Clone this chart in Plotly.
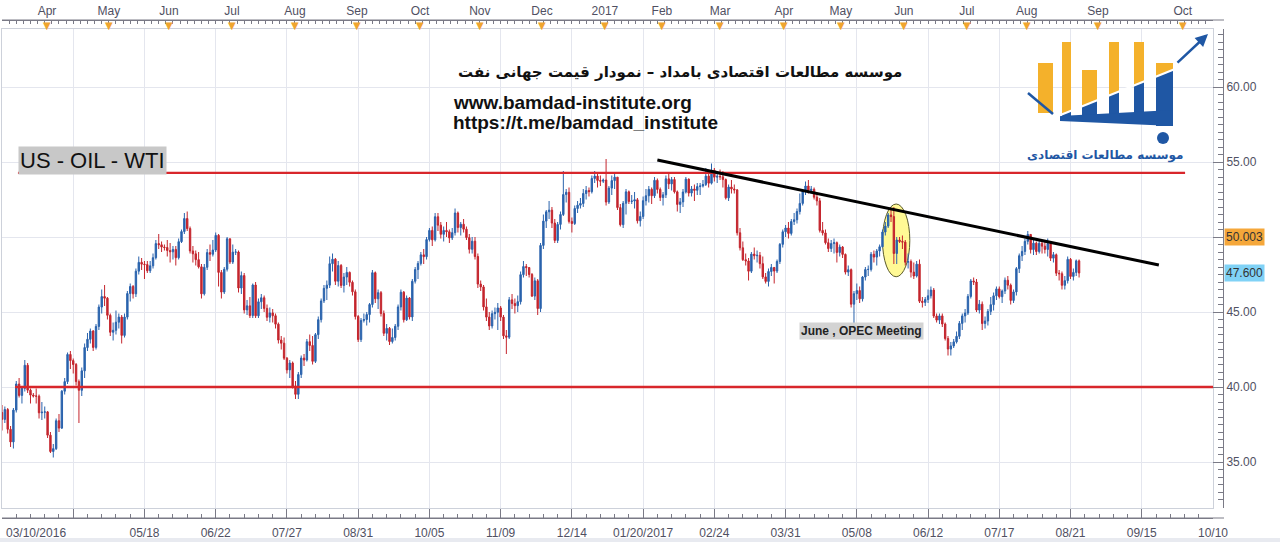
import plotly.graph_objects as go

# ---------------- DATA (daily US-OIL WTI candles) ----------------
OPEN = [
    38.30, 37.84, 38.50, 37.18, 36.34, 38.46, 40.20, 39.44, 39.91, 41.45, 39.79, 39.46, 39.40, 39.39, 38.28, 38.32,
    38.34, 36.79, 35.70, 35.89, 37.75, 37.26, 39.72, 40.36, 42.17, 41.76, 41.50, 40.36, 39.78, 41.08, 42.63, 43.18, 43.73, 42.64, 44.04, 45.33, 46.03,
    45.92, 44.78, 43.65, 43.78, 44.32, 44.66, 43.44, 44.66, 46.23, 46.70, 46.21, 47.72, 48.31, 48.19, 48.16, 47.75, 48.08, 48.62, 49.56, 49.48, 49.33, 49.30,
    49.10, 49.01, 49.17, 48.62, 49.69, 50.36, 51.23, 50.56, 49.07, 48.88, 48.49, 48.01, 46.21, 47.98, 48.96, 48.85, 49.13, 50.11, 47.64, 46.33, 47.85, 49.88,
    48.33, 48.99, 49.00, 46.60, 47.43, 45.14, 45.41, 44.76, 46.80, 44.75, 45.68, 45.95, 45.24, 44.65, 44.94, 44.75, 44.19, 43.13, 42.92, 41.92, 41.14,
    41.60, 40.06, 39.51, 40.83, 41.93, 41.80, 43.02, 42.77, 41.71, 43.49, 44.49, 45.74, 46.58, 46.79, 48.22, 48.52, 47.05, 48.10, 46.77, 47.33, 47.64, 46.98, 46.35,
    44.70, 43.16, 44.44, 44.50, 44.83, 45.50, 47.62, 45.88, 46.29, 44.90, 43.58, 43.91, 43.03, 43.30, 44.05, 45.34, 46.32, 44.48, 45.93, 44.67, 47.05, 47.83,
    48.24, 48.81, 48.69, 49.83, 50.44, 49.81, 51.35, 50.79, 50.18, 50.44, 50.35, 49.94, 50.29, 51.60, 50.63, 50.85, 50.52, 49.96, 49.18, 49.72, 48.70,
    46.86, 46.67, 45.34, 44.66, 44.07, 44.89, 44.98, 45.27, 44.66, 43.41, 43.32, 45.81, 45.57, 45.42, 45.69, 47.49, 48.03, 47.96, 47.50, 46.06, 47.08, 45.23,
    49.44, 51.06, 51.68, 51.79, 50.93, 49.77, 50.84, 51.50, 52.83, 52.98, 51.04, 50.90, 51.90, 52.12, 52.23, 52.90, 53.10, 53.02, 53.90, 54.06, 53.77,
    53.72, 53.80, 52.33, 53.26, 53.76, 53.99, 51.96, 50.82, 52.25, 53.01, 52.37, 52.40, 52.48, 51.08, 51.37, 52.42, 52.75, 53.18, 52.75, 53.78, 53.17, 52.63,
    52.81, 53.88, 53.54, 53.83, 53.01, 52.17, 52.34, 53.00, 53.86, 52.93, 53.20, 53.11, 53.36, 53.40, 53.50, 54.06, 53.59, 54.45, 53.99, 54.05,
    54.01, 53.83, 52.61, 53.33, 53.20, 53.14, 50.28, 49.28, 48.49, 48.40, 47.72, 48.86, 48.75, 48.78, 48.22, 47.34, 47.04, 47.70, 47.97, 47.73, 48.37, 49.51, 50.35,
    50.60, 50.24, 51.03, 51.15, 51.70, 52.24, 53.08, 53.40, 53.11, 53.18, 52.65, 52.41, 50.44, 50.27, 49.62, 49.23, 49.56, 49.62, 48.97,
    49.33, 48.84, 47.66, 47.82, 45.52, 46.22, 46.43, 45.88, 47.33, 47.83, 47.84, 48.85, 48.66, 49.07, 49.35, 50.33, 50.73, 51.47, 51.36, 48.90, 49.80, 49.70, 49.66,
    48.32, 48.36, 47.66, 47.40, 48.19, 45.72, 45.64, 45.83, 46.08, 46.46, 44.73, 44.46, 44.74, 44.20, 43.23, 42.53, 42.74, 43.01, 43.38, 44.24, 44.74, 44.93,
    46.04, 47.07, 47.00, 45.13, 45.52, 44.23, 44.40, 45.04, 45.49, 46.08, 46.54, 46.02, 46.40, 47.12, 46.79, 45.77, 46.34, 47.89, 48.75, 49.04, 49.71,
    50.17, 49.16, 49.59, 49.03, 49.58, 49.39, 49.17, 49.56, 48.59, 48.82, 47.59, 47.55, 46.78, 47.09, 48.51, 47.37, 47.64, 48.41,
]
HIGH = [
    38.80, 38.70, 38.60, 37.40, 38.60, 40.40, 40.60, 40.00, 41.80, 41.60, 39.90, 39.60, 39.90, 39.50, 39.00, 38.70,
    38.40, 37.00, 36.20, 37.90, 38.20, 39.80, 40.60, 42.30, 42.40, 41.90, 41.60, 40.50, 41.30, 42.90, 43.60, 43.90, 43.80, 44.20, 45.50, 46.50, 46.80,
    46.00, 44.90, 44.30, 45.10, 44.90, 44.80, 44.90, 46.40, 46.90, 46.80, 47.90, 48.70, 48.60, 48.40, 48.40, 48.40, 48.90, 49.80, 50.20, 49.70, 49.50, 49.80,
    49.60, 49.40, 49.40, 49.90, 50.50, 51.60, 51.70, 50.70, 49.40, 49.10, 49.00, 48.20, 48.20, 49.20, 49.50, 49.80, 50.30, 50.20, 47.80, 48.00, 50.00, 49.90,
    49.50, 49.20, 49.10, 47.70, 47.60, 45.80, 46.00, 46.90, 47.00, 45.90, 46.20, 46.10, 45.50, 45.30, 45.20, 44.90, 44.30, 43.40, 43.30, 42.00, 41.80,
    41.70, 40.40, 41.00, 42.10, 42.20, 43.20, 43.50, 43.40, 43.60, 44.70, 45.90, 46.80, 47.10, 48.70, 48.90, 48.60, 48.40, 48.20, 47.60, 48.00, 47.70, 47.10, 46.50,
    44.80, 44.60, 44.90, 45.00, 45.60, 47.80, 47.70, 46.50, 46.40, 45.10, 44.20, 44.00, 43.90, 44.20, 45.50, 46.50, 46.40, 46.10, 46.00, 47.20, 48.00, 48.40,
    49.00, 49.20, 50.00, 50.60, 50.70, 51.60, 51.60, 51.00, 50.70, 51.00, 50.50, 50.60, 51.90, 51.70, 51.00, 51.20, 50.70, 50.20, 50.00, 50.00, 48.90,
    47.10, 46.80, 45.90, 45.00, 45.10, 45.30, 45.60, 45.40, 44.80, 43.80, 46.00, 46.20, 45.90, 46.10, 47.70, 48.40, 48.20, 48.00, 47.60, 47.30, 47.20, 49.60,
    51.50, 51.80, 52.40, 52.00, 51.20, 51.00, 51.70, 54.40, 53.20, 53.30, 51.30, 52.10, 52.40, 52.60, 53.20, 53.40, 53.30, 54.10, 54.40, 54.20, 54.10,
    53.90, 55.20, 53.40, 54.10, 54.30, 54.00, 52.20, 52.40, 53.20, 53.10, 52.80, 53.00, 52.60, 51.70, 52.70, 53.20, 53.40, 53.30, 54.00, 53.90, 53.30, 53.00,
    54.10, 54.20, 54.00, 54.00, 53.10, 52.60, 53.20, 54.00, 53.90, 53.40, 53.50, 53.60, 53.60, 53.80, 54.60, 54.30, 54.90, 54.60, 54.30, 54.50,
    54.40, 53.90, 53.50, 53.80, 53.50, 53.20, 50.60, 49.70, 48.90, 48.60, 49.00, 49.30, 49.10, 49.00, 48.70, 47.60, 47.90, 48.20, 48.00, 48.50, 49.60, 50.50, 50.80,
    51.00, 51.20, 51.60, 51.90, 52.90, 53.20, 53.70, 53.80, 53.40, 53.30, 52.90, 52.60, 51.00, 50.50, 49.90, 49.80, 49.90, 49.70, 49.50,
    49.40, 48.90, 48.10, 47.90, 46.40, 46.90, 46.70, 47.40, 48.00, 48.10, 49.00, 49.10, 49.20, 49.50, 50.50, 51.00, 51.60, 51.80, 52.00, 50.00, 50.00, 50.10, 49.80,
    48.90, 48.50, 48.30, 48.40, 48.50, 46.00, 46.00, 46.50, 46.70, 46.60, 44.90, 44.90, 44.90, 44.30, 43.40, 43.00, 43.20, 43.70, 44.40, 44.90, 45.20, 46.20,
    47.20, 47.30, 47.20, 45.80, 45.70, 44.70, 45.20, 46.00, 46.30, 46.70, 46.70, 46.50, 47.30, 47.40, 46.90, 46.50, 48.00, 48.90, 49.40, 49.90, 50.40,
    50.20, 49.80, 49.70, 49.80, 49.70, 49.80, 49.90, 49.60, 49.00, 48.90, 47.80, 47.70, 47.40, 48.70, 48.60, 47.90, 48.50, 48.50,
]
LOW = [
    37.10, 37.60, 36.90, 36.00, 35.90, 38.30, 39.30, 38.90, 39.70, 39.60, 38.90, 39.30, 38.90, 37.90, 37.80, 37.90,
    36.60, 35.60, 35.30, 35.80, 37.00, 37.20, 39.50, 40.20, 41.20, 40.90, 40.10, 37.60, 39.40, 40.60, 42.40, 42.90, 42.40, 42.50, 43.80, 44.90, 45.40,
    44.50, 43.40, 43.10, 43.50, 43.90, 42.90, 43.30, 44.50, 45.70, 45.90, 46.00, 47.50, 47.80, 47.20, 47.60, 47.60, 47.90, 48.50, 49.20, 49.00, 49.10, 48.70,
    48.30, 48.50, 48.10, 48.50, 49.60, 50.20, 50.40, 48.90, 48.30, 48.10, 47.90, 45.90, 46.10, 47.80, 48.40, 48.70, 49.00, 46.70, 45.90, 46.20, 47.70, 48.20,
    48.20, 48.80, 46.30, 46.20, 44.90, 44.80, 44.60, 44.60, 44.60, 44.60, 45.20, 45.00, 44.40, 44.30, 44.30, 43.90, 42.90, 42.50, 41.80, 40.90, 40.60,
    39.90, 39.20, 39.20, 40.60, 41.40, 41.70, 42.40, 41.50, 41.60, 43.20, 44.30, 45.60, 45.80, 46.60, 47.70, 46.80, 46.70, 46.60, 46.30, 46.80, 46.70, 46.10, 44.50,
    43.00, 43.00, 44.30, 44.10, 44.30, 45.30, 45.60, 45.20, 44.70, 43.40, 43.10, 42.80, 42.90, 43.10, 43.80, 45.10, 44.30, 44.40, 44.50, 44.40, 46.90, 47.20,
    48.10, 48.20, 48.50, 49.70, 49.40, 49.70, 50.40, 49.90, 49.70, 50.00, 49.60, 49.80, 50.10, 50.30, 50.10, 50.30, 49.80, 48.90, 48.90, 48.50, 46.60,
    46.40, 45.10, 44.40, 43.80, 43.90, 44.50, 43.80, 44.40, 43.20, 42.20, 43.20, 45.20, 44.90, 45.00, 45.50, 47.30, 47.40, 47.30, 46.00, 45.80, 44.80, 45.00,
    49.20, 50.60, 51.20, 50.60, 49.60, 49.60, 50.50, 51.40, 52.30, 50.90, 50.30, 50.80, 51.60, 51.90, 52.00, 52.50, 52.70, 52.90, 53.60, 53.30, 53.40,
    53.60, 52.10, 52.20, 52.80, 53.20, 51.80, 50.70, 50.60, 51.50, 52.20, 52.20, 51.90, 50.90, 50.70, 51.20, 52.10, 52.30, 52.20, 52.60, 52.90, 52.40, 52.10,
    52.60, 53.20, 53.10, 52.90, 51.70, 51.60, 52.00, 52.90, 52.70, 52.70, 52.40, 52.80, 52.80, 53.30, 53.40, 53.30, 53.50, 53.70, 53.60, 53.80,
    53.30, 52.50, 52.40, 52.90, 52.90, 50.10, 49.10, 48.40, 48.10, 47.10, 47.60, 48.50, 48.30, 47.90, 47.20, 46.90, 46.70, 47.40, 46.90, 47.60, 48.20, 49.30, 50.00,
    49.90, 50.10, 50.80, 50.90, 51.50, 52.10, 52.80, 52.90, 52.90, 52.50, 52.10, 50.30, 50.10, 49.50, 49.00, 49.00, 48.90, 48.30, 48.70,
    48.60, 47.50, 47.40, 45.30, 43.80, 45.80, 45.60, 45.70, 47.10, 47.40, 47.70, 48.30, 48.10, 48.70, 49.30, 50.10, 50.60, 51.00, 48.20, 48.20, 49.60, 49.20, 48.10,
    47.90, 47.30, 47.20, 47.30, 45.60, 45.30, 45.40, 45.60, 45.90, 44.60, 44.30, 44.20, 44.00, 43.10, 42.10, 42.10, 42.60, 42.90, 43.20, 43.80, 44.30, 44.80,
    45.90, 46.80, 45.00, 44.90, 43.80, 43.90, 44.10, 44.80, 45.10, 45.80, 45.90, 45.60, 46.20, 46.50, 45.50, 45.60, 46.10, 47.60, 48.40, 48.80, 49.50,
    48.90, 48.80, 48.80, 48.90, 48.90, 48.90, 48.70, 48.40, 48.30, 47.40, 47.10, 46.50, 46.50, 46.90, 47.20, 47.10, 47.40, 47.30,
]
CLOSE = [
    37.84, 38.50, 37.18, 36.34, 38.46, 40.20, 39.44, 39.91, 41.45, 39.79, 39.46, 39.40, 39.39, 38.28, 38.32, 38.34,
    36.79, 35.70, 35.89, 37.75, 37.26, 39.72, 40.36, 42.17, 41.76, 41.50, 40.36, 39.78, 41.08, 42.63, 43.18, 43.73, 42.64, 44.04, 45.33, 46.03, 45.92,
    44.78, 43.65, 43.78, 44.32, 44.66, 43.44, 44.66, 46.23, 46.70, 46.21, 47.72, 48.31, 48.19, 48.16, 47.75, 48.08, 48.62, 49.56, 49.48, 49.33, 49.30, 49.10,
    49.01, 49.17, 48.62, 49.69, 50.36, 51.23, 50.56, 49.07, 48.88, 48.49, 48.01, 46.21, 47.98, 48.96, 48.85, 49.13, 50.11, 47.64, 46.33, 47.85, 49.88, 48.33,
    48.99, 49.00, 46.60, 47.43, 45.14, 45.41, 44.76, 46.80, 44.75, 45.68, 45.95, 45.24, 44.65, 44.94, 44.75, 44.19, 43.13, 42.92, 41.92, 41.14, 41.60,
    40.06, 39.51, 40.83, 41.93, 41.80, 43.02, 42.77, 41.71, 43.49, 44.49, 45.74, 46.58, 46.79, 48.22, 48.52, 47.05, 48.10, 46.77, 47.33, 47.64, 46.98, 46.35, 44.70,
    43.16, 44.44, 44.50, 44.83, 45.50, 47.62, 45.88, 46.29, 44.90, 43.58, 43.91, 43.03, 43.30, 44.05, 45.34, 46.32, 44.48, 45.93, 44.67, 47.05, 47.83, 48.24,
    48.81, 48.69, 49.83, 50.44, 49.81, 51.35, 50.79, 50.18, 50.44, 50.35, 49.94, 50.29, 51.60, 50.63, 50.85, 50.52, 49.96, 49.18, 49.72, 48.70, 46.86,
    46.67, 45.34, 44.66, 44.07, 44.89, 44.98, 45.27, 44.66, 43.41, 43.32, 45.81, 45.57, 45.42, 45.69, 47.49, 48.03, 47.96, 47.50, 46.06, 47.08, 45.23, 49.44,
    51.06, 51.68, 51.79, 50.93, 49.77, 50.84, 51.50, 52.83, 52.98, 51.04, 50.90, 51.90, 52.12, 52.23, 52.90, 53.10, 53.02, 53.90, 54.06, 53.77, 53.72,
    53.80, 52.33, 53.26, 53.76, 53.99, 51.96, 50.82, 52.25, 53.01, 52.37, 52.40, 52.48, 51.08, 51.37, 52.42, 52.75, 53.18, 52.75, 53.78, 53.17, 52.63, 52.81,
    53.88, 53.54, 53.83, 53.01, 52.17, 52.34, 53.00, 53.86, 52.93, 53.20, 53.11, 53.36, 53.40, 53.50, 54.06, 53.59, 54.45, 53.99, 54.05, 54.01,
    53.83, 52.61, 53.33, 53.20, 53.14, 50.28, 49.28, 48.49, 48.40, 47.72, 48.86, 48.75, 48.78, 48.22, 47.34, 47.04, 47.70, 47.97, 47.73, 48.37, 49.51, 50.35, 50.60,
    50.24, 51.03, 51.15, 51.70, 52.24, 53.08, 53.40, 53.11, 53.18, 52.65, 52.41, 50.44, 50.27, 49.62, 49.23, 49.56, 49.62, 48.97, 49.33,
    48.84, 47.66, 47.82, 45.52, 46.22, 46.43, 45.88, 47.33, 47.83, 47.84, 48.85, 48.66, 49.07, 49.35, 50.33, 50.73, 51.47, 51.36, 48.90, 49.80, 49.70, 49.66, 48.32,
    48.36, 47.66, 47.40, 48.19, 45.72, 45.64, 45.83, 46.08, 46.46, 44.73, 44.46, 44.74, 44.20, 43.23, 42.53, 42.74, 43.01, 43.38, 44.24, 44.74, 44.93, 46.04,
    47.07, 47.00, 45.13, 45.52, 44.23, 44.40, 45.04, 45.49, 46.08, 46.54, 46.02, 46.40, 47.12, 46.79, 45.77, 46.34, 47.89, 48.75, 49.04, 49.71, 50.17,
    49.16, 49.59, 49.03, 49.58, 49.39, 49.17, 49.56, 48.59, 48.82, 47.59, 47.55, 46.78, 47.09, 48.51, 47.37, 47.64, 48.41, 47.60,
]
assert len(OPEN) == len(HIGH) == len(LOW) == len(CLOSE), (len(OPEN), len(HIGH), len(LOW), len(CLOSE))

BOTTOM_POS = [0, 25, 50, 75, 100, 125, 150, 175, 200, 225, 250, 275, 300, 325, 350, 375, 400, 425]
BOTTOM_LABELS = ["03/10/2016", "04/14", "05/18", "06/22", "07/27", "08/31", "10/05", "11/09", "12/14",
                 "01/20/2017", "02/24", "03/31", "05/08", "06/12", "07/17", "08/21", "09/15", "10/10"]
TOP_POS = [15.8, 37.5, 58.6, 80.7, 102.8, 124.6, 146.7, 167.7, 189.5, 211.6,
           231.6, 252.0, 274.4, 294.4, 316.5, 338.6, 359.6, 384.6, 414.4]
TOP_LABELS = ["Apr", "May", "Jun", "Jul", "Aug", "Sep", "Oct", "Nov", "Dec", "2017",
              "Feb", "Mar", "Apr", "May", "Jun", "Jul", "Aug", "Sep", "Oct"]
Y_TICKS = [35, 40, 45, 50, 55, 60]

RESIST_X, RESIST_Y = [5.6, 415.2], [54.27, 54.27]
SUPPORT_X, SUPPORT_Y = [4.6, 425.0], [40.0, 40.0]
TREND_X, TREND_Y = [230.0, 406.0], [55.13, 48.13]
OPEC_X, OPEC_Y = [309.0, 318.6], [47.35, 52.2]
TAG_VALUES = [50.003, 47.600]

# ---------------- GEOMETRY ----------------
W, H = 1280, 542
LM, RM, TM, BM = 2, 57, 20, 24
PW, PH = W - LM - RM, H - TM - BM
X_RANGE = [0, 425]
Y_RANGE = [31.933, 63.867]


def px(x):
    return (x - LM) / PW


def py(y):
    return (H - BM - y) / PH


BLUE = "#2a63ad"
RED = "#c4252d"
GRID = "#e4e6ee"
FRAME = "#cdd1da"
AXC = "#7a7a86"
TXT = "#505062"
FONT = "Liberation Sans"

fig = go.Figure()
fig.add_trace(go.Candlestick(
    x=list(range(len(CLOSE))), open=OPEN, high=HIGH, low=LOW, close=CLOSE,
    increasing=dict(line=dict(color=BLUE, width=1), fillcolor=BLUE),
    decreasing=dict(line=dict(color=RED, width=1), fillcolor=RED),
    whiskerwidth=0, showlegend=False, hoverinfo="skip"))

fig.add_trace(go.Scatter(x=RESIST_X, y=RESIST_Y, mode="lines", line=dict(color="#d8262b", width=2.2),
                         showlegend=False, hoverinfo="skip"))
fig.add_trace(go.Scatter(x=SUPPORT_X, y=SUPPORT_Y, mode="lines", line=dict(color="#d8262b", width=2.6),
                         showlegend=False, hoverinfo="skip"))
fig.add_trace(go.Scatter(x=TREND_X, y=TREND_Y, mode="lines", line=dict(color="#000000", width=3),
                         showlegend=False, hoverinfo="skip"))
# invisible carriers so that the secondary (bottom / top / right) axes are drawn
for xa, ya in (("x2", "y"), ("x3", "y"), ("x", "y2")):
    fig.add_trace(go.Scatter(x=X_RANGE, y=Y_RANGE, xaxis=xa, yaxis=ya, mode="markers",
                             marker=dict(opacity=0, size=1), showlegend=False, hoverinfo="skip"))

shapes = []
# OPEC ellipse
shapes.append(dict(type="circle", xref="x", yref="y", x0=OPEC_X[0], x1=OPEC_X[1], y0=OPEC_Y[0], y1=OPEC_Y[1],
                   fillcolor="rgba(255,248,130,0.85)", line=dict(color="#5a5a2a", width=1), layer="between"))
# bottom grey strip
shapes.append(dict(type="rect", xref="paper", yref="paper", x0=px(0), x1=px(1280), y0=py(542), y1=py(538),
                   fillcolor="#e8eaf0", line=dict(width=0), layer="below"))
# axis line extensions (bottom and top) to the right axis
shapes.append(dict(type="line", xref="paper", yref="paper", x0=px(2), x1=px(1224), y0=py(518), y1=py(518),
                   line=dict(color=AXC, width=1)))
shapes.append(dict(type="line", xref="paper", yref="paper", x0=px(2), x1=px(1224), y0=py(20), y1=py(20),
                   line=dict(color=AXC, width=1)))

# ---------------- LOGO (approximation of the Bamdad logo) ----------------
GOLD = "#f4b12b"
LBLUE = "#1f57a4"


def split(x):
    return 118 + (x - 1053) * (70 - 118) / (1173 - 1053)


LOGO_BARS = [(1038, 1053, 63, 113), (1062, 1071, 42, 118), (1082, 1097, 70, 118),
             (1109, 1119, 42, 120), (1134, 1144, 42, 122), (1156, 1173, 63, 126)]
for x0, x1, t, b in LOGO_BARS:
    s0, s1 = min(split(x0), b), min(split(x1), b)
    path_y = "M {} {} L {} {} L {} {} L {} {} Z".format(px(x0), py(t), px(x1), py(t), px(x1), py(s1), px(x0), py(s0))
    shapes.append(dict(type="path", xref="paper", yref="paper", path=path_y, fillcolor=GOLD, line=dict(width=0)))
    if s0 < b:
        path_b = "M {} {} L {} {} L {} {} L {} {} Z".format(px(x0), py(s0), px(x1), py(s1), px(x1), py(b), px(x0), py(b))
        shapes.append(dict(type="path", xref="paper", yref="paper", path=path_b, fillcolor=LBLUE, line=dict(width=0)))
# blue base of the word
base = "M {} {} L {} {} L {} {} L {} {} Z".format(px(1060), py(116), px(1173), py(110), px(1173), py(126), px(1060), py(121))
shapes.append(dict(type="path", xref="paper", yref="paper", path=base, fillcolor=LBLUE, line=dict(width=0)))
shapes.append(dict(type="circle", xref="paper", yref="paper", x0=px(1157), x1=px(1169), y0=py(144), y1=py(132),
                   fillcolor=LBLUE, line=dict(width=0)))
# white separation + left stroke of the arrow
shapes.append(dict(type="line", xref="paper", yref="paper", x0=px(1053), x1=px(1175), y0=py(118), y1=py(69),
                   line=dict(color="white", width=2)))
shapes.append(dict(type="line", xref="paper", yref="paper", x0=px(1028), x1=px(1053), y0=py(93), y1=py(114),
                   line=dict(color=LBLUE, width=2.5)))

annotations = []
# arrow head part of the logo
annotations.append(dict(xref="paper", yref="paper", x=px(1208), y=py(34), ax=1176 - 1208, ay=64 - 34,
                        axref="pixel", ayref="pixel", text="", showarrow=True, arrowhead=2, arrowsize=1,
                        arrowwidth=2.5, arrowcolor=LBLUE))
annotations.append(dict(xref="paper", yref="paper", x=px(1105), y=py(156), xanchor="center", yanchor="middle",
                        text="<b>موسسه مطالعات اقتصادی</b>",
                        showarrow=False, font=dict(family="DejaVu Sans", size=12, color=LBLUE)))

# titles
annotations.append(dict(xref="paper", yref="paper", x=px(680), y=py(72), xanchor="center", yanchor="middle",
                        text="<b>موسسه مطالعات اقتصادی بامداد – نمودار قیمت جهانی نفت</b>",
                        showarrow=False, font=dict(family="DejaVu Sans", size=15, color="#111111")))
annotations.append(dict(xref="paper", yref="paper", x=px(451), y=py(102), xanchor="left", yanchor="middle",
                        text="<b>www.bamdad-institute.org</b>", showarrow=False,
                        font=dict(family=FONT, size=19, color="#111111")))
annotations.append(dict(xref="paper", yref="paper", x=px(451), y=py(122), xanchor="left", yanchor="middle",
                        text="<b>https://t.me/bamdad_institute</b>", showarrow=False,
                        font=dict(family=FONT, size=19, color="#111111")))
# instrument label
annotations.append(dict(xref="paper", yref="paper", x=px(18), y=py(160), xanchor="left", yanchor="middle",
                        text="US - OIL - WTI", showarrow=False, bgcolor="#c8c8c8", borderpad=1,
                        font=dict(family=FONT, size=22, color="#111111")))
# OPEC label
annotations.append(dict(xref="paper", yref="paper", x=px(861), y=py(331), xanchor="center", yanchor="middle",
                        text="<b>June , OPEC Meeting</b>", showarrow=False, bgcolor="#d3d3d3", borderpad=1,
                        font=dict(family=FONT, size=12, color="#222222")))
# price tags on right axis
for v, col in zip(TAG_VALUES, ["#f5a73a", "#80d2f6"]):
    annotations.append(dict(xref="paper", yref="y", x=1.0, y=v, xanchor="left", yanchor="middle", xshift=1,
                            text="{:.3f}".format(v), showarrow=False, bgcolor=col, borderpad=1,
                            font=dict(family=FONT, size=12, color="#333333")))
# month markers on top axis
for p in TOP_POS:
    annotations.append(dict(xref="x", yref="paper", x=p, y=py(25), xanchor="center", yanchor="middle",
                            text="▼", showarrow=False,
                            font=dict(family="DejaVu Sans", size=10, color="#efa52f")))
# first bottom label (left aligned at plot edge)
annotations.append(dict(xref="paper", yref="paper", x=px(4), y=py(533), xanchor="left", yanchor="middle",
                        text=BOTTOM_LABELS[0], showarrow=False, font=dict(family=FONT, size=12, color=TXT)))

bottom_text = [""] * 2 + BOTTOM_LABELS[2:]
# the orange price tag sits on top of the 50.00 label, which is therefore not shown
right_text = ["" if any(abs(v - t) < 1.0 for t in TAG_VALUES) else "{:.2f}".format(v) for v in Y_TICKS]

fig.update_layout(
    width=W, height=H, margin=dict(l=LM, r=RM, t=TM, b=BM, autoexpand=False),
    paper_bgcolor="white", plot_bgcolor="white", showlegend=False, hovermode=False,
    xaxis=dict(domain=[0, px(1213)], range=X_RANGE, showgrid=True, gridcolor=GRID, gridwidth=1,
               tickmode="array", tickvals=BOTTOM_POS, showticklabels=False, ticks="",
               showline=True, mirror=True, linecolor=FRAME, zeroline=False,
               rangeslider=dict(visible=False), fixedrange=True, automargin=False),
    yaxis=dict(domain=[py(508), py(29)], range=Y_RANGE, side="right", showgrid=True, gridcolor=GRID,
               tickmode="array", tickvals=Y_TICKS, showticklabels=False, ticks="",
               showline=True, mirror=True, linecolor=FRAME, zeroline=False, fixedrange=True, automargin=False),
    xaxis2=dict(overlaying="x", anchor="free", position=0, range=X_RANGE, showgrid=False, zeroline=False,
                tickmode="array", tickvals=BOTTOM_POS, ticktext=bottom_text, ticks="inside", ticklen=9,
                tickcolor=AXC, showline=True, linecolor=AXC, automargin=False, ticklabelstandoff=4,
                tickfont=dict(family=FONT, size=12, color=TXT),
                minor=dict(tickmode="linear", tick0=0, dtick=5, ticks="inside", ticklen=4, tickcolor=AXC)),
    xaxis3=dict(overlaying="x", side="top", anchor="free", position=1, range=X_RANGE, showgrid=False,
                zeroline=False, tickmode="array", tickvals=TOP_POS, ticktext=TOP_LABELS, ticks="inside",
                ticklen=0, showline=True, linecolor=AXC, automargin=False,
                tickfont=dict(family=FONT, size=12, color=TXT),
                minor=dict(tickmode="linear", tick0=0, dtick=2.5, ticks="inside", ticklen=3, tickcolor=AXC)),
    yaxis2=dict(overlaying="y", anchor="free", position=1, side="right", range=Y_RANGE, showgrid=False,
                zeroline=False, tickmode="array", tickvals=Y_TICKS, automargin=False,
                ticktext=right_text, ticks="inside", ticklen=10, tickcolor=AXC,
                showline=True, linecolor=AXC, tickfont=dict(family=FONT, size=12, color=TXT),
                minor=dict(tickmode="linear", tick0=0, dtick=0.5, ticks="inside", ticklen=5, tickcolor=AXC)),
    shapes=shapes, annotations=annotations,
)

fig.write_html("out.html", config={"displayModeBar": False},
               post_script="document.body.style.margin='0px';document.body.style.overflow='hidden';")
